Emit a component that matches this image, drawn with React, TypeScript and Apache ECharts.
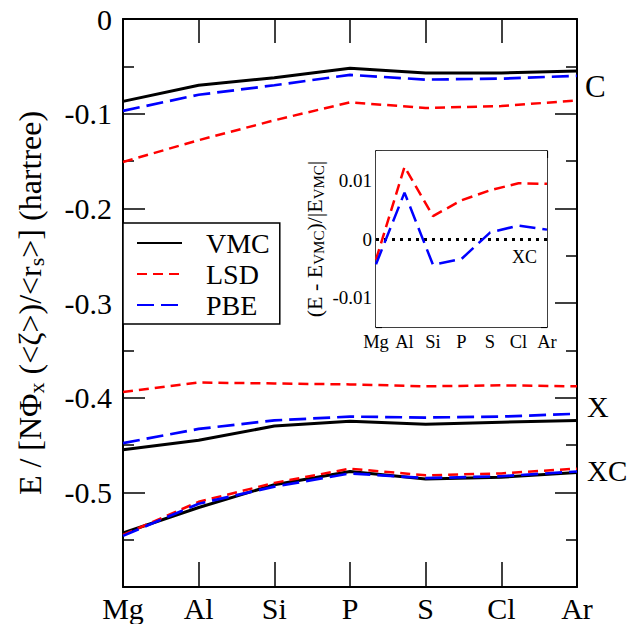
import React, { useEffect, useRef } from 'react';
import * as echarts from 'echarts';

const categories = ['Mg', 'Al', 'Si', 'P', 'S', 'Cl', 'Ar'];

// Correlation (C)
const vmcC = [-0.087, -0.070, -0.062, -0.052, -0.057, -0.057, -0.055];
const lsdC = [-0.151, -0.128, -0.107, -0.088, -0.094, -0.092, -0.086];
const pbeC = [-0.097, -0.080, -0.070, -0.059, -0.064, -0.063, -0.060];

// Exchange (X)
const vmcX = [-0.455, -0.445, -0.430, -0.425, -0.428, -0.426, -0.424];
const lsdX = [-0.394, -0.384, -0.385, -0.386, -0.388, -0.387, -0.388];
const pbeX = [-0.448, -0.433, -0.424, -0.420, -0.421, -0.420, -0.417];

// Exchange-correlation (XC)
const vmcXC = [-0.543, -0.516, -0.492, -0.478, -0.486, -0.484, -0.479];
const lsdXC = [-0.545, -0.510, -0.490, -0.475, -0.482, -0.480, -0.475];
const pbeXC = [-0.546, -0.512, -0.494, -0.480, -0.485, -0.483, -0.478];

// Inset: relative XC error (E - E_VMC)/|E_VMC|
const lsdRel = [-0.0035, 0.0123, 0.0039, 0.0066, 0.0083, 0.0095, 0.0094];
const pbeRel = [-0.0043, 0.0079, -0.0044, -0.0034, 0.0011, 0.0023, 0.0016];

const FONT = 'Liberation Serif, serif';

const vmcStyle = { color: '#000000', width: 3, type: 'solid' as const };
const lsdStyle = { color: '#ff0000', width: 2.5, type: [10, 6] };
const pbeStyle = { color: '#0000ff', width: 2.7, type: [17, 7] };

function mainSeries(name: string, data: number[], style: any) {
  return {
    name,
    type: 'line',
    xAxisIndex: 0,
    yAxisIndex: 0,
    data,
    symbol: 'none',
    showSymbol: false,
    lineStyle: style,
    itemStyle: { color: style.color },
    z: 3,
  };
}

export default function App() {
  const ref = useRef<HTMLDivElement>(null);
  useEffect(() => {
    const chart = echarts.init(ref.current!, null, { renderer: 'svg' });
    const axisLineMain = { show: true, onZero: false, lineStyle: { color: '#000', width: 2 } };
    const axisLineInset = { show: true, onZero: false, lineStyle: { color: '#000', width: 1.5 } };
    const option: any = {
      animation: false,
      backgroundColor: '#fff',
      textStyle: { fontFamily: FONT },
      grid: [
        { left: 123, top: 19, width: 454, height: 568, containLabel: false },
        { left: 376, top: 151, width: 171, height: 176, containLabel: false, show: true, backgroundColor: '#fff', borderWidth: 0, z: 5 },
      ],
      legend: {
        data: ['VMC', 'LSD', 'PBE'],
        orient: 'vertical',
        left: 123,
        top: 223,
        itemWidth: 45,
        itemHeight: 14,
        itemGap: 3,
        padding: [6, 10, 5, 13],
        borderColor: '#000',
        borderWidth: 1.5,
        borderRadius: 0,
        backgroundColor: '#fff',
        itemStyle: { opacity: 0 },
        selectedMode: false,
        textStyle: { fontSize: 28, fontFamily: FONT, color: '#000', padding: [0, 0, 0, 19], lineHeight: 28 },
      },
      xAxis: [
        {
          type: 'category', gridIndex: 0, data: categories, boundaryGap: false, position: 'bottom',
          axisLine: axisLineMain,
          axisTick: { show: true, inside: true, length: 25, lineStyle: { color: '#000', width: 1.5 } },
          axisLabel: { fontSize: 30, fontFamily: FONT, color: '#000', margin: 6, interval: 0 },
          splitLine: { show: false },
        },
        {
          type: 'category', gridIndex: 0, data: categories, boundaryGap: false, position: 'top',
          axisLine: axisLineMain,
          axisTick: { show: true, inside: true, length: 24, lineStyle: { color: '#000', width: 1.5 } },
          axisLabel: { show: false },
          splitLine: { show: false },
        },
        {
          type: 'category', gridIndex: 1, data: categories, boundaryGap: false, position: 'bottom',
          axisLine: axisLineInset,
          axisTick: { show: false },
          axisLabel: { fontSize: 18.5, fontFamily: FONT, color: '#000', margin: 5, interval: 0, hideOverlap: false },
          splitLine: { show: false },
        },
        {
          type: 'category', gridIndex: 1, data: categories, boundaryGap: false, position: 'top',
          axisLine: axisLineInset,
          axisTick: { show: true, inside: true, length: 7, lineStyle: { color: '#000', width: 1.2 } },
          axisLabel: { show: false },
          splitLine: { show: false },
        },
      ],
      yAxis: [
        {
          type: 'value', gridIndex: 0, min: -0.6, max: 0, interval: 0.1, position: 'left',
          axisLine: axisLineMain,
          axisTick: { show: true, inside: true, length: 22, lineStyle: { color: '#000', width: 1.5 } },
          minorTick: { show: true, splitNumber: 2, length: 11, lineStyle: { color: '#000', width: 1.5 } },
          axisLabel: {
            fontSize: 30, fontFamily: FONT, color: '#000', margin: 11,
            formatter: (v: number) => (Math.abs(v) < 1e-9 ? '0' : v < -0.59 ? '' : v.toFixed(1)),
          },
          splitLine: { show: false },
          minorSplitLine: { show: false },
          name: '{n|E / [NΦ}{s|x}{n| (<ζ>)/<r}{s|s}{n|>] (hartree)}',
          nameLocation: 'middle',
          nameGap: 76,
          nameRotate: 90,
          nameTextStyle: {
            fontFamily: FONT,
            rich: {
              n: { fontSize: 32, fontFamily: FONT, color: '#000', lineHeight: 35 },
              s: { fontSize: 22, fontFamily: FONT, color: '#000', lineHeight: 22, verticalAlign: 'bottom' },
            },
          },
        },
        {
          type: 'value', gridIndex: 0, min: -0.6, max: 0, interval: 0.1, position: 'right',
          axisLine: axisLineMain,
          axisTick: { show: true, inside: true, length: 22, lineStyle: { color: '#000', width: 1.5 } },
          minorTick: { show: true, splitNumber: 2, length: 11, lineStyle: { color: '#000', width: 1.5 } },
          axisLabel: { show: false },
          splitLine: { show: false },
          minorSplitLine: { show: false },
        },
        {
          type: 'value', gridIndex: 1, min: -0.015, max: 0.015, interval: 0.005, position: 'left',
          axisLine: axisLineInset,
          axisTick: { show: true, inside: true, length: 6, lineStyle: { color: '#000', width: 1.2 } },
          axisLabel: {
            fontSize: 19, fontFamily: FONT, color: '#000', margin: 4,
            formatter: (v: number) => {
              const k = v * 100;
              if (Math.abs(k - Math.round(k)) > 1e-6) return '';
              if (Math.abs(v) > 0.0149) return '';
              return Math.abs(v) < 1e-9 ? '0' : v.toFixed(2);
            },
          },
          splitLine: { show: false },
          name: '{n|(E - E}{s|VMC}{n|)/|E}{s|VMC}{n||}',
          nameLocation: 'middle',
          nameGap: 50,
          nameRotate: 90,
          nameTextStyle: {
            fontFamily: FONT,
            rich: {
              n: { fontSize: 22, fontFamily: FONT, color: '#000', lineHeight: 24 },
              s: { fontSize: 15, fontFamily: FONT, color: '#000', lineHeight: 15, verticalAlign: 'bottom' },
            },
          },
        },
        {
          type: 'value', gridIndex: 1, min: -0.015, max: 0.015, interval: 0.005, position: 'right',
          axisLine: axisLineInset,
          axisTick: { show: true, inside: true, length: 6, lineStyle: { color: '#000', width: 1.2 } },
          axisLabel: { show: false },
          splitLine: { show: false },
        },
      ],
      series: [
        mainSeries('VMC', vmcC, vmcStyle),
        mainSeries('VMC', vmcX, vmcStyle),
        mainSeries('VMC', vmcXC, vmcStyle),
        mainSeries('LSD', lsdC, lsdStyle),
        mainSeries('LSD', lsdX, lsdStyle),
        mainSeries('LSD', lsdXC, lsdStyle),
        mainSeries('PBE', pbeC, pbeStyle),
        mainSeries('PBE', pbeX, pbeStyle),
        mainSeries('PBE', pbeXC, pbeStyle),
        {
          name: 'LSD', type: 'line', xAxisIndex: 2, yAxisIndex: 2, data: lsdRel, symbol: 'none',
          lineStyle: { color: '#ff0000', width: 2.5, type: [11, 6] }, z: 6,
          markLine: {
            silent: true, symbol: ['none', 'none'], label: { show: false },
            lineStyle: { color: '#000', width: 3, type: [3, 5] },
            data: [{ yAxis: 0 }],
          },
        },
        {
          name: 'PBE', type: 'line', xAxisIndex: 2, yAxisIndex: 2, data: pbeRel, symbol: 'none',
          lineStyle: { color: '#0000ff', width: 2.5, type: [16, 7] }, z: 6,
        },
      ],
      graphic: [
        { type: 'text', x: 585, y: 86, z: 10, style: { text: 'C', font: `31px ${FONT}`, fill: '#000', verticalAlign: 'middle' } },
        { type: 'text', x: 587, y: 406, z: 10, style: { text: 'X', font: `30px ${FONT}`, fill: '#000', verticalAlign: 'middle' } },
        { type: 'text', x: 587, y: 471, z: 10, style: { text: 'XC', font: `29px ${FONT}`, fill: '#000', verticalAlign: 'middle' } },
        { type: 'text', x: 512, y: 257, z: 10, style: { text: 'XC', font: `18px ${FONT}`, fill: '#000', verticalAlign: 'middle' } },
      ],
    };
    chart.setOption(option);
    return () => chart.dispose();
  }, []);
  return <div ref={ref} style={{ position: 'fixed', left: 0, top: 0, width: 629, height: 624 }} />;
}
